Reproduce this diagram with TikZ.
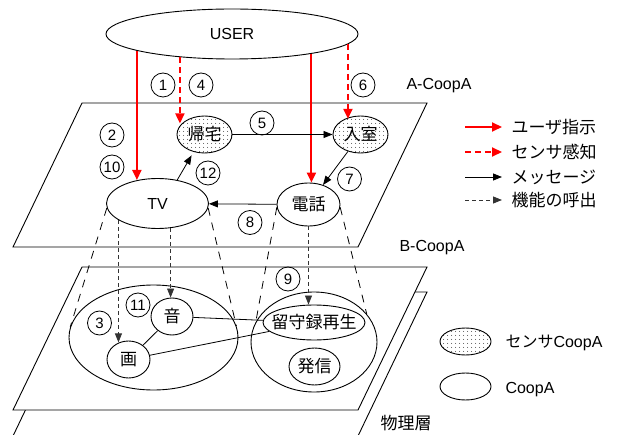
\documentclass[tikz,border=0pt]{standalone}
\usepackage{fontspec}
\setmainfont{Liberation Sans}
\newfontfamily\cjk{Noto Sans CJK JP}
\usetikzlibrary{arrows.meta,patterns.meta,shapes.geometric}
\begin{document}
\begin{tikzpicture}[x=1pt,y=-1pt,
  lat/.style={font=\fontsize{16}{18}\selectfont},
  jp/.style={font=\fontsize{17}{19}\selectfont\cjk},
  ell/.style={ellipse,draw,line width=0.9pt,inner sep=0pt},
  sens/.style={ell,pattern={Dots[distance=4pt,radius=0.5pt]}},
  num/.style={circle,draw,line width=0.8pt,inner sep=0pt,minimum size=24pt,font=\fontsize{15}{17}\selectfont},
  plane/.style={draw,line width=0.9pt,fill=white},
  usr/.style={red,line width=2pt,-{Triangle[length=10pt,width=9pt]}},
  sns/.style={usr,dash pattern=on 6pt off 4pt},
  msg/.style={line width=0.8pt,-{Triangle[length=9pt,width=7pt]}},
  fnc/.style={line width=0.8pt,black!80,dash pattern=on 4pt off 3pt,-{Triangle[length=9pt,width=7pt]}},
  proj/.style={line width=0.8pt,dash pattern=on 8pt off 7pt},
  lnk/.style={line width=0.8pt},
]
\useasboundingbox (0,0) rectangle (617,435);

% planes
\path[plane] (13,436) -- (82,292) -- (427,292) -- (358,436);
\draw[plane] (82,267) -- (427,267) -- (358,410) -- (13,410) -- cycle;
\draw[plane] (82,103) -- (427,103) -- (358,247) -- (13,247) -- cycle;

% plane labels
\node[lat,anchor=west] (labA) at (403,86) {A-CoopA};
\node[lat,anchor=west] (labB) at (396,248) {B-CoopA};
\node[jp,anchor=west] (labP) at (377,423) {物理層};

% nodes
\node[ell,minimum width=252pt,minimum height=50pt,lat] (user) at (232,34) {USER};
\node[sens,minimum width=55pt,minimum height=37pt,jp] (kitaku) at (204.5,134.5) {帰宅};
\node[sens,minimum width=55pt,minimum height=37pt,jp] (nyushitsu) at (360.5,134.5) {入室};
\node[ell,minimum width=102pt,minimum height=50pt,lat] (tv) at (157.5,203.5) {TV};
\node[ell,minimum width=63pt,minimum height=43pt,jp] (denwa) at (308.5,204.5) {電話};
\node[ell,minimum width=169pt,minimum height=105pt] (bigL) at (153.5,337.5) {};
\node[ell,minimum width=126pt,minimum height=100pt] (bigR) at (314,342) {};
\node[ell,minimum width=42pt,minimum height=37pt,jp] (oto) at (172,316.5) {音};
\node[ell,minimum width=43pt,minimum height=37pt,jp] (ga) at (128.5,359.5) {画};
\node[ell,minimum width=102pt,minimum height=35pt,jp] (rusu) at (314,322.5) {\makebox[0pt]{留守録再生}};
\node[ell,minimum width=51pt,minimum height=37pt,jp] (hasshin) at (314.5,366.5) {\makebox[0pt]{発信}};

% projection lines
\draw[proj] (tv.185) -- (bigL.173);
\draw[proj] (tv.-5) -- (bigL.8);
\draw[proj] (denwa.185) -- (bigR.161);
\draw[proj] (denwa.-5) -- (bigR.28);

% user instructions / sensing
\draw[usr] (user.190) -- (user.190 |- tv.130.2);
\draw[sns] (user.204.66) -- (user.204.66 |- kitaku.154.7);
\draw[usr] (user.-14.7) -- (user.-14.7 |- denwa.north);
\draw[sns] (user.-5.6) -- (user.-5.6 |- nyushitsu.135.4);

% messages
\draw[msg] (kitaku) -- (nyushitsu);
\draw[msg] (nyushitsu) -- (denwa);
\draw[msg] (denwa) -- (tv);
\draw[msg,shorten >=4pt] (tv.50) -- (kitaku.238.5);

% function calls
\draw[fnc] (tv.203.1) -- (tv.203.1 |- ga.119.8);
\draw[fnc] (tv.-62.7) -- (tv.-62.7 |- oto.north);
\draw[fnc] (denwa.south) -- (denwa.south |- rusu.north);

% links
\draw[lnk] (oto) -- (ga);
\draw[lnk] (oto) -- (rusu);
\draw[lnk] (ga) -- (rusu);

% step numbers
\node[num] (n1) at (163,85) {1};
\node[num] (n4) at (201,85) {4};
\node[num] (n6) at (363,85) {6};
\node[num] (n5) at (262,123) {5};
\node[num] (n2) at (112,135) {2};
\node[num] (n10) at (112,167) {10};
\node[num] (n12) at (208,173) {12};
\node[num] (n7) at (349.5,179) {7};
\node[num] (n8) at (250,222.5) {8};
\node[num] (n9) at (288,279) {9};
\node[num] (n11) at (138,305) {11};
\node[num] (n3) at (99.5,323) {3};

% legend
\coordinate (la1) at (465,127); \coordinate (lb1) at (502,127);
\coordinate (la2) at (465,152); \coordinate (lb2) at (502,152);
\coordinate (la3) at (465,177); \coordinate (lb3) at (502,177);
\coordinate (la4) at (465,200); \coordinate (lb4) at (502,200);
\draw[usr] (la1) -- (lb1);
\draw[sns] (la2) -- (lb2);
\draw[msg] (la3) -- (lb3);
\draw[fnc] (la4) -- (lb4);
\node[jp,anchor=west] (lt1) at (508,127) {ユーザ指示};
\node[jp,anchor=west] (lt2) at (508,152) {センサ感知};
\node[jp,anchor=west] (lt3) at (508,177) {メッセージ};
\node[jp,anchor=west] (lt4) at (508,200) {機能の呼出};

\node[sens,minimum width=51pt,minimum height=27pt] (lsens) at (465.5,341.5) {};
\node[lat,anchor=west] (lts) at (502,343) {{\cjk\fontsize{16}{18}\selectfont センサ}CoopA};
\node[ell,minimum width=51pt,minimum height=27pt] (lcoop) at (465.5,386.5) {};
\node[lat,anchor=west] (ltc) at (502,390) {CoopA};
\end{tikzpicture}
\end{document}
